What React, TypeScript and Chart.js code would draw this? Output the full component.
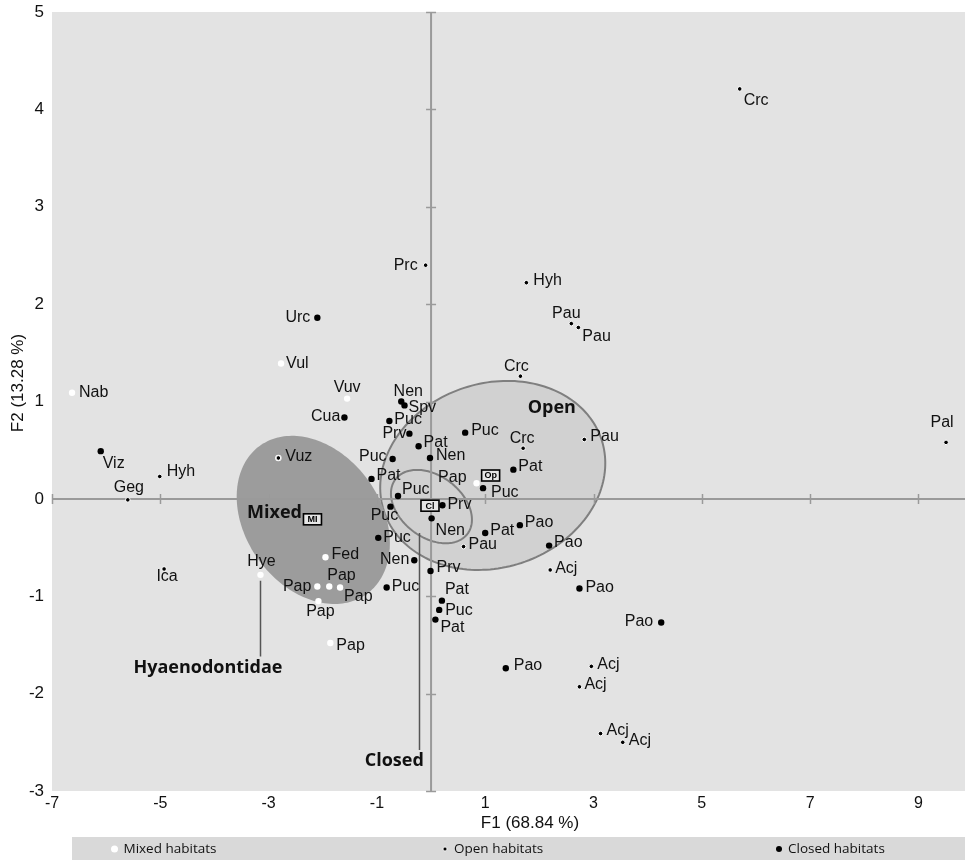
import React, { useEffect, useRef } from 'react';
import { Chart, registerables } from 'chart.js';
Chart.register(...registerables);

// ---------- data ----------
const xTicks = [-7, -5, -3, -1, 1, 3, 5, 7, 9];
const yTicks = [-3, -2, -1, 0, 1, 2, 3, 4, 5];

const mixedNames = ['Nab', 'Vul', 'Vuv', 'Vuz', 'Pap', 'Fed', 'Hye', 'Pap', 'Pap', 'Pap', 'Pap', 'Pap'];
const mixedX = [-6.63, -2.77, -1.55, -2.82, 0.84, -1.95, -3.15, -2.10, -1.88, -1.68, -2.08, -1.86];
const mixedY = [1.09, 1.39, 1.03, 0.42, 0.16, -0.60, -0.78, -0.90, -0.90, -0.91, -1.05, -1.48];

const openNames = ['Crc', 'Prc', 'Hyh', 'Pau', 'Pau', 'Crc', 'Crc', 'Pau', 'Pal', 'Hyh', 'Geg', 'Pau', 'Acj', 'Ica', 'Acj', 'Acj', 'Acj', 'Acj', ''];
const openX = [5.70, -0.10, 1.76, 2.59, 2.72, 1.65, 1.70, 2.83, 9.51, -5.01, -5.60, 0.60, 2.20, -4.93, 2.96, 2.74, 3.13, 3.54, -2.82];
const openY = [4.21, 2.40, 2.22, 1.80, 1.76, 1.26, 0.52, 0.61, 0.58, 0.23, -0.01, -0.49, -0.73, -0.72, -1.72, -1.93, -2.41, -2.50, 0.42];

const closedNames = ['Urc', 'Viz', 'Cua', 'Nen', 'Spv', 'Puc', 'Prv', 'Puc', 'Pat', 'Nen', 'Puc', 'Pat', 'Pat', 'Puc', 'Puc', 'Puc', 'Prv', 'Nen', 'Pao', 'Pat', 'Puc', 'Pao', 'Nen', 'Prv', 'Puc', 'Pao', 'Pat', 'Puc', 'Pat', 'Pao', 'Pao'];
const closedX = [-2.10, -6.10, -1.60, -0.55, -0.49, -0.77, -0.40, 0.63, -0.23, -0.02, -0.71, -1.10, 1.52, -0.61, 0.96, -0.75, 0.21, 0.01, 1.64, 1.00, -0.975, 2.18, -0.31, -0.01, -0.82, 2.74, 0.20, 0.15, 0.08, 4.25, 1.38];
const closedY = [1.86, 0.49, 0.835, 1.00, 0.96, 0.80, 0.67, 0.68, 0.54, 0.42, 0.41, 0.205, 0.30, 0.03, 0.11, -0.08, -0.065, -0.20, -0.27, -0.35, -0.40, -0.48, -0.63, -0.74, -0.91, -0.92, -1.045, -1.14, -1.24, -1.27, -1.74];

// ellipses: centre, two conjugate semi-axis vectors (data units)
const ellipseOpen = [1.139, 0.241, 2.01, 0.366, 0.528, -0.899];
const ellipseMixed = [-2.175, -0.216, 0.99, -0.76, -1.01, -0.41];
const ellipseClosed = [0.007, -0.079, 0.664, -0.281, -0.344, -0.251];

const centroidNames = ['MI', 'Op', 'Cl'];
const centroidX = [-2.19, 1.10, -0.02];
const centroidY = [-0.21, 0.24, -0.07];

const groupNames = ['Mixed', 'Open', 'Closed', 'Hyaenodontidae'];
const groupX = [-2.89, 2.23, -0.68, -4.12];
const groupY = [-0.144, 0.932, -2.69, -1.736];

// leader lines: x, y1, y2
const hyeLine = [-3.15, -0.84, -1.62];
const closedLine = [-0.22, -0.35, -2.58];

const legendNames = ['Mixed habitats', 'Open habitats', 'Closed habitats'];

// ---------- label placement (style) ----------
type LP = [string, number, number];
const mixedLabelPos: LP[] = [
  ['r', 7, 0], ['r', 5, 0], ['c', 0, -11], ['r', 7, -1], ['l', -10, -6], ['r', 6, -3],
  ['c', 1, -13], ['l', -6, 0], ['r', -2, -11], ['r', 4, 9], ['c', 2, 10], ['r', 6, 3],
];
const openLabelPos: LP[] = [
  ['r', 4, 12], ['l', -8, 0], ['r', 7, -2], ['c', -5, -10], ['r', 4, 9], ['c', -4, -10],
  ['c', -1, -10], ['r', 6, -3], ['c', -4, -20], ['r', 7, -5], ['c', 1, -12], ['r', 5, -2],
  ['r', 5, -1], ['c', 3, 8], ['r', 6, -2], ['r', 5, -2], ['r', 6, -3], ['r', 6, -2], ['r', 0, 0],
];
const closedLabelPos: LP[] = [
  ['l', -7, 0], ['r', 2, 12], ['l', -4, -1], ['c', 7, -10], ['r', 4, 2], ['r', 5, -1],
  ['l', -3, 0], ['r', 6, -2], ['r', 5, -4], ['r', 6, -2], ['l', -6, -2], ['r', 5, -3],
  ['r', 5, -3], ['r', 4, -6], ['r', 8, 4], ['c', -6, 9], ['r', 5, -1], ['r', 4, 12],
  ['r', 5, -3], ['r', 5, -2], ['r', 5, 0], ['r', 5, -3], ['l', -5, -1], ['r', 6, -3],
  ['r', 5, -1], ['r', 6, -1], ['r', 3, -11], ['r', 6, 1], ['r', 5, 8], ['l', -8, -1], ['r', 8, -3],
];

const FONT = '"Liberation Sans", Arial, sans-serif';
const BOLD = '"Open Sans", "Noto Sans", sans-serif';

function toPts(xs: number[], ys: number[]) {
  return xs.map((x, i) => ({ x, y: ys[i] }));
}

const customPlugin = {
  id: 'custom',
  afterLayout(chart: any) {
    // let the plot run to the right edge of the canvas
    const xs = chart.scales.x;
    if (chart.chartArea.right < chart.width) {
      chart.chartArea.right = chart.width;
      xs.right = chart.width;
      xs.width = xs.right - xs.left;
      xs.configure();
    }
  },
  beforeDraw(chart: any) {
    const { ctx, chartArea: a } = chart;
    ctx.save();
    ctx.fillStyle = '#e3e3e3';
    ctx.fillRect(a.left, a.top, a.right - a.left, a.bottom - a.top);
    ctx.restore();
  },
  beforeDatasetsDraw(chart: any) {
    const { ctx, chartArea: a } = chart;
    const xs = chart.scales.x;
    const ys = chart.scales.y;
    const px = (v: number) => xs.getPixelForValue(v);
    const py = (v: number) => ys.getPixelForValue(v);
    const path = (e: number[]) => {
      ctx.beginPath();
      const n = 180;
      for (let i = 0; i <= n; i++) {
        const t = (i / n) * Math.PI * 2;
        const x = e[0] + e[2] * Math.cos(t) + e[4] * Math.sin(t);
        const y = e[1] + e[3] * Math.cos(t) + e[5] * Math.sin(t);
        if (i === 0) ctx.moveTo(px(x), py(y));
        else ctx.lineTo(px(x), py(y));
      }
      ctx.closePath();
    };
    ctx.save();
    path(ellipseOpen);
    ctx.fillStyle = '#d1d1d1';
    ctx.fill();
    ctx.strokeStyle = '#7f7f7f';
    ctx.lineWidth = 2;
    ctx.stroke();
    path(ellipseMixed);
    ctx.fillStyle = '#9c9c9c';
    ctx.fill();
    path(ellipseClosed);
    ctx.strokeStyle = '#7f7f7f';
    ctx.lineWidth = 2;
    ctx.stroke();

    // axes through origin
    ctx.strokeStyle = '#9a9a9a';
    ctx.lineWidth = 2;
    const x0 = px(0);
    const y0 = py(0);
    ctx.beginPath();
    ctx.moveTo(a.left, y0);
    ctx.lineTo(a.right, y0);
    ctx.moveTo(x0, a.top);
    ctx.lineTo(x0, a.bottom);
    ctx.stroke();
    ctx.lineWidth = 1.5;
    ctx.beginPath();
    xTicks.forEach((v) => {
      const x = Math.round(px(v)) + 0.5;
      ctx.moveTo(x, y0 - 5);
      ctx.lineTo(x, y0 + 5);
    });
    yTicks.forEach((v) => {
      const y = Math.round(py(v)) + 0.5;
      ctx.moveTo(x0 - 5, y);
      ctx.lineTo(x0 + 5, y);
    });
    ctx.stroke();

    // leader lines
    ctx.strokeStyle = '#555';
    ctx.lineWidth = 1.5;
    ctx.beginPath();
    [hyeLine, closedLine].forEach((l) => {
      const x = Math.round(px(l[0])) + 0.5;
      ctx.moveTo(x, py(l[1]));
      ctx.lineTo(x, py(l[2]));
    });
    ctx.stroke();
    ctx.restore();
  },
  afterDatasetsDraw(chart: any) {
    const { ctx } = chart;
    const xs = chart.scales.x;
    const ys = chart.scales.y;
    ctx.save();
    ctx.fillStyle = '#111';
    ctx.font = `16px ${FONT}`;
    ctx.textBaseline = 'middle';
    chart.data.datasets.forEach((ds: any, di: number) => {
      const meta = chart.getDatasetMeta(di);
      ds.names.forEach((name: string, i: number) => {
        if (!name) return;
        const el = meta.data[i];
        const [al, dx, dy] = ds.labelPos[i];
        ctx.textAlign = al === 'r' ? 'left' : al === 'l' ? 'right' : 'center';
        ctx.fillText(name, el.x + dx, el.y + dy);
      });
    });

    // centroid boxes
    centroidNames.forEach((n, i) => {
      const cx = xs.getPixelForValue(centroidX[i]);
      const cy = ys.getPixelForValue(centroidY[i]);
      const w = 18, h = 11;
      ctx.fillStyle = '#e6e6e6';
      ctx.fillRect(cx - w / 2, cy - h / 2, w, h);
      ctx.strokeStyle = '#000';
      ctx.lineWidth = 1.6;
      ctx.strokeRect(cx - w / 2, cy - h / 2, w, h);
      ctx.fillStyle = '#000';
      ctx.font = `bold 9px ${FONT}`;
      ctx.textAlign = 'center';
      ctx.fillText(n, cx, cy + 0.5);
    });

    // group labels
    ctx.fillStyle = '#111';
    ctx.font = `bold 18px ${BOLD}`;
    ctx.textAlign = 'center';
    groupNames.forEach((n, i) => {
      ctx.fillText(n, xs.getPixelForValue(groupX[i]), ys.getPixelForValue(groupY[i]));
    });
    ctx.restore();
  },
  afterDraw(chart: any) {
    const { ctx, width, height } = chart;
    ctx.save();
    // axis titles
    ctx.fillStyle = '#111';
    ctx.font = `17px ${FONT}`;
    ctx.textAlign = 'center';
    ctx.textBaseline = 'middle';
    ctx.fillText('F1 (68.84 %)', 530, 823);
    ctx.translate(18.5, 383);
    ctx.rotate(-Math.PI / 2);
    ctx.fillText('F2 (13.28 %)', 0, 0);
    ctx.restore();

    // legend band
    ctx.save();
    ctx.fillStyle = '#d9d9d9';
    ctx.fillRect(72, 837, width - 72, height - 837);
    const items = [
      { x: 114.5, fill: '#ffffff', r: 3.5, border: 0 },
      { x: 445, fill: '#000000', r: 2, border: 0.8 },
      { x: 779, fill: '#000000', r: 3, border: 0 },
    ];
    ctx.font = `13.5px "Open Sans", sans-serif`;
    ctx.textBaseline = 'middle';
    ctx.textAlign = 'left';
    items.forEach((it, i) => {
      ctx.beginPath();
      ctx.arc(it.x, 849, it.r, 0, Math.PI * 2);
      ctx.fillStyle = it.fill;
      ctx.fill();
      if (it.border) {
        ctx.strokeStyle = '#fff';
        ctx.lineWidth = it.border;
        ctx.stroke();
      }
      ctx.fillStyle = '#111';
      ctx.fillText(legendNames[i], it.x + 9, 849);
    });
    ctx.restore();
  },
};

export default function App() {
  const ref = useRef<HTMLCanvasElement>(null);
  useEffect(() => {
    const canvas = ref.current!;
    const chart = new Chart(canvas, {
      type: 'scatter',
      data: {
        datasets: [
          {
            label: 'Open habitats',
            data: toPts(openX, openY),
            names: openNames,
            labelPos: openLabelPos,
            pointRadius: 2.3,
            pointBackgroundColor: '#000',
            pointBorderColor: '#fff',
            pointBorderWidth: 1,
          } as any,
          {
            label: 'Closed habitats',
            data: toPts(closedX, closedY),
            names: closedNames,
            labelPos: closedLabelPos,
            pointRadius: 3.2,
            pointBackgroundColor: '#000',
            pointBorderWidth: 0,
          } as any,
          {
            label: 'Mixed habitats',
            data: toPts(mixedX, mixedY),
            names: mixedNames,
            labelPos: mixedLabelPos,
            pointRadius: 3.2,
            pointBackgroundColor: '#fff',
            pointBorderWidth: 0,
          } as any,
        ],
      },
      options: {
        responsive: false,
        animation: false,
        events: [],
        layout: { padding: { top: 12, left: 0, right: 0, bottom: 0 } },
        plugins: { legend: { display: false }, tooltip: { enabled: false } },
        scales: {
          x: {
            type: 'linear',
            min: -7,
            max: 9.86,
            grid: { display: false, drawTicks: false },
            border: { display: false },
            afterBuildTicks: (s: any) => {
              s.ticks = xTicks.map((v) => ({ value: v }));
            },
            afterFit: (s: any) => {
              s.height = 69;
              s.paddingLeft = 0;
              s.paddingRight = 0;
            },
            ticks: { font: { family: FONT, size: 16 }, color: '#111', padding: 3, maxRotation: 0, autoSkip: false },
          },
          y: {
            type: 'linear',
            min: -3,
            max: 5,
            grid: { display: false, drawTicks: false },
            border: { display: false },
            afterBuildTicks: (s: any) => {
              s.ticks = yTicks.map((v) => ({ value: v }));
            },
            afterFit: (s: any) => {
              s.width = 52;
              s.paddingTop = 0;
              s.paddingBottom = 0;
            },
            ticks: { font: { family: FONT, size: 17 }, color: '#111', padding: 8, autoSkip: false },
          },
        },
      } as any,
      plugins: [customPlugin],
    });
    return () => chart.destroy();
  }, []);
  return (
    <div style={{ position: 'absolute', left: 0, top: 0, width: 965, height: 860, overflow: 'hidden' }}>
      <canvas ref={ref} width={965} height={860} style={{ display: 'block', width: 965, height: 860 }} />
    </div>
  );
}
